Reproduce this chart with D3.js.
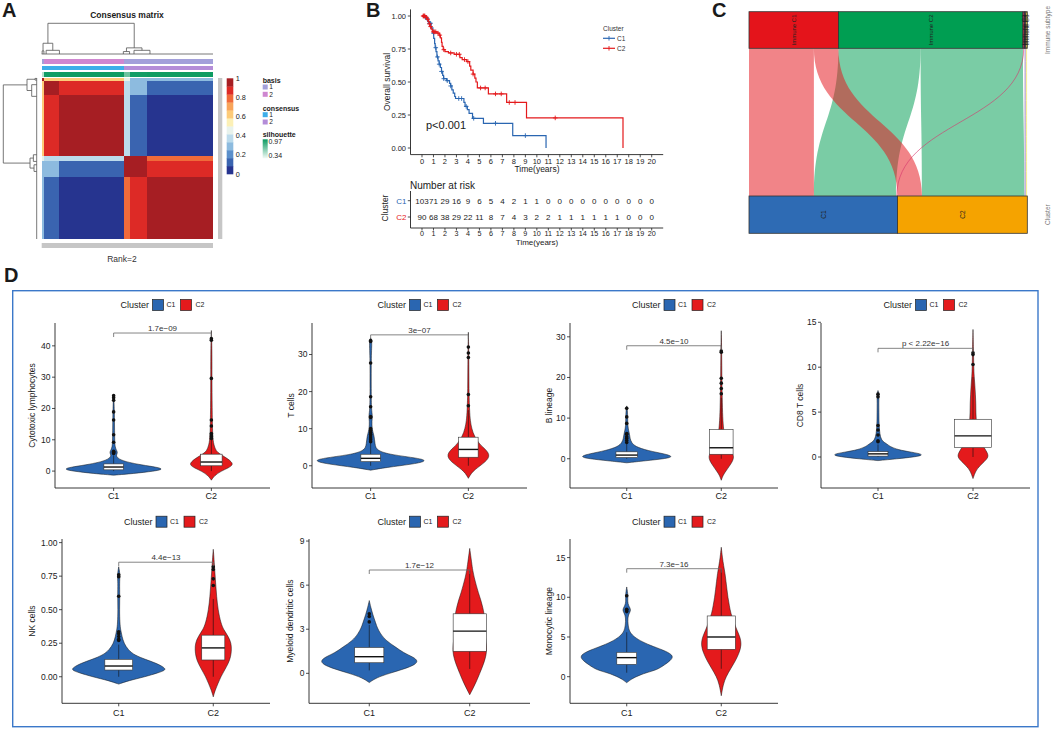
<!DOCTYPE html>
<html><head><meta charset="utf-8">
<script src="https://cdn.jsdelivr.net/npm/d3@7"></script>
<style>
body{margin:0;background:#fff}
svg{display:block}
text{font-family:"Liberation Sans",Arial,Helvetica,sans-serif;fill:#1a1a1a}
</style>
</head><body>
<svg id="fig" width="1059" height="731"></svg>
<script>
// ===================== DATA =====================
// ---- Panel A : consensus matrix (block structure) ----
const aBlockSizes = [3, 17, 73, 7, 19, 74];
const aBlockValues = [
  [1.00, 0.64, 0.64, 0.44, 0.30, 0.28],
  [0.64, 0.97, 0.88, 0.36, 0.30, 0.12],
  [0.64, 0.88, 0.97, 0.36, 0.13, 0.03],
  [0.44, 0.36, 0.36, 1.00, 0.92, 0.80],
  [0.30, 0.30, 0.13, 0.92, 0.97, 0.88],
  [0.28, 0.12, 0.03, 0.80, 0.88, 0.97]
];
const aBasis = [1, 2, 2, 1, 1, 1];
const aConsensus = [1, 1, 1, 2, 2, 2];
const aSilhouette = [0.50, 0.95, 0.96, 0.70, 0.95, 0.96];
const aLegendTicks = [0, 0.2, 0.4, 0.6, 0.8, 1];
const aColTree = [1.0, [0.35, [0.10, 0.5, 2.5], [0.12, 5, 20]], [0.20, [0.08, 92, 99], [0.12, 104, 122]]];
const aRowTree = [1.0, [0.29, [0.05, 0.5, 2.5], [0.15, 8, 22]], [0.20, [0.10, 92, 100], [0.08, 104, 112]]];
const aSilRange = [0.34, 0.97];

// ---- Panel B : Kaplan-Meier ----
const bTimeTicks = [0,1,2,3,4,5,6,7,8,9,10,11,12,13,14,15,16,17,18,19,20];
const bSurvTicks = [0, 0.25, 0.5, 0.75, 1];
const bStepsC1 = [[0,1],[0.2,0.99],[0.35,0.98],[0.5,0.96],[0.6,0.945],[0.8,0.91],[0.95,0.87],[1.02,0.83],[1.1,0.79],[1.15,0.76],[1.22,0.73],[1.3,0.69],[1.4,0.66],[1.5,0.635],[1.6,0.61],[1.7,0.58],[1.8,0.55],[1.88,0.525],[2.15,0.51],[2.4,0.49],[2.5,0.47],[2.6,0.44],[2.72,0.415],[2.85,0.39],[2.92,0.375],[3.65,0.345],[3.75,0.315],[3.95,0.29],[4.1,0.262],[4.4,0.225],[5.35,0.187],[7.9,0.094],[10.8,0]];
const bStepsC2 = [[0,1],[0.3,0.99],[0.45,0.975],[0.55,0.96],[0.62,0.94],[0.7,0.92],[0.8,0.9],[0.9,0.88],[1.3,0.87],[1.5,0.855],[1.6,0.835],[1.7,0.8],[1.75,0.77],[1.85,0.745],[2.0,0.73],[2.3,0.72],[2.8,0.71],[3.3,0.685],[3.5,0.67],[3.9,0.655],[4.15,0.62],[4.25,0.59],[4.45,0.56],[4.6,0.53],[4.7,0.5],[4.82,0.455],[5.78,0.41],[7.37,0.345],[9.1,0.228],[17.5,0]];
const bCensorC1 = [0.3,0.45,0.65,0.75,1.0,1.2,1.35,1.5,1.7,1.9,2.2,2.5,3.2,3.45,3.85,4.5,6.4,9.0];
const bCensorC2 = [0.1,0.15,0.2,0.25,0.4,0.5,0.65,0.75,1.0,1.1,1.2,1.4,1.55,1.9,2.5,3.0,3.25,3.7,4.0,4.45,5.1,5.5,6.4,6.9,7.6,8.1,11.6];
const bRiskC1 = [103,71,29,16,9,6,5,4,2,1,1,0,0,0,0,0,0,0,0,0,0];
const bRiskC2 = [90,68,38,29,22,11,8,7,4,3,2,2,1,1,1,1,1,1,0,0,0];
const bGroups = ["C1", "C2"];

// ---- Panel C : alluvial ----
const cTop = ["Immune C1", "Immune C2", "Immune C3", "Immune C4", "Immune C6"];
const cBottom = ["C1", "C2"];
const cFlows = [
  ["Immune C1", "C1", 45], ["Immune C1", "C2", 17],
  ["Immune C2", "C1", 57], ["Immune C2", "C2", 71],
  ["Immune C3", "C1", 1], ["Immune C4", "C2", 1], ["Immune C6", "C2", 1]
];

// ---- Panel D : violins ----
const dNames = ["Cytotoxic lymphocytes", "T cells", "B lineage", "CD8 T cells", "NK cells", "Myeloid dendritic cells", "Monocytic lineage"];
const dPvals = ["1.7e\u221209", "3e\u221207", "4.5e\u221210", "p < 2.22e\u221216", "4.4e\u221213", "1.7e\u221212", "7.3e\u221216"];
const dYDomain = [[-5.4,47.3],[-6.0,38.5],[-7.2,33.4],[-3.45,14.92],[-0.198,1.027],[-2.04,9.14],[-3.35,17.34]];
const dYTicks = [[0,10,20,30,40],[0,10,20,30],[0,10,20,30],[0,5,10,15],[0,0.25,0.5,0.75,1],[0,3,6,9],[0,5,10,15]];
const dBracket = [44.1, 35.3, 27.8, 12.1, 0.854, 7.03, 13.6];
const dCats = ["C1", "C2"];
const dViolinC1 = [
  [[-1.3,0],[-0.8,0.2],[0,0.42],[0.6,0.51],[1.2,0.45],[2,0.28],[2.8,0.15],[3.5,0.08],[4.2,0.04],[5,0.025],[5.8,0.04],[6.4,0.035],[7.5,0.015],[10,0.01],[20,0.008],[24.5,0]],
  [[-1.2,0],[-0.5,0.15],[0.5,0.45],[1.3,0.58],[2,0.5],[3,0.2],[4,0.08],[5,0.05],[6,0.045],[7,0.04],[8,0.035],[9,0.025],[10,0.015],[12,0.012],[13.5,0.02],[15,0.008],[20,0.006],[30,0.006],[33.5,0.015],[34.5,0]],
  [[-1,0],[-0.5,0.2],[0,0.4],[0.5,0.5],[1.2,0.4],[2,0.22],[3,0.09],[4,0.05],[5,0.035],[6,0.03],[7,0.02],[8,0.012],[10,0.01],[12,0.008],[13,0]],
  [[-0.4,0],[-0.2,0.2],[0,0.38],[0.25,0.5],[0.55,0.35],[0.8,0.21],[1.2,0.12],[1.5,0.09],[1.7,0.05],[2.2,0.025],[3,0.015],[4,0.01],[5,0.01],[6,0.008],[7,0.012],[7.4,0]],
  [[-0.055,0],[-0.03,0.1],[0,0.28],[0.03,0.42],[0.05,0.5],[0.07,0.48],[0.1,0.4],[0.13,0.28],[0.16,0.17],[0.2,0.1],[0.25,0.055],[0.3,0.035],[0.35,0.02],[0.4,0.012],[0.5,0.008],[0.6,0.012],[0.7,0.008],[0.76,0.015],[0.82,0]],
  [[-0.63,0],[-0.3,0.07],[0,0.2],[0.3,0.35],[0.6,0.46],[0.85,0.484],[1.1,0.44],[1.4,0.34],[1.8,0.26],[2.2,0.17],[2.7,0.11],[3.1,0.08],[3.4,0.065],[4,0.035],[4.5,0.015],[4.95,0]],
  [[-0.76,0],[-0.3,0.05],[0,0.1],[0.5,0.2],[0.85,0.32],[1.5,0.4],[2,0.46],[2.6,0.5],[3.2,0.42],[3.8,0.28],[4.4,0.16],[5,0.08],[5.5,0.04],[6,0.02],[7,0.01],[7.8,0.015],[8.4,0.05],[8.9,0.02],[9.5,0.008],[10.2,0.015],[11.3,0]]
];
const dViolinC2 = [
  [[-2.9,0],[-1.5,0.03],[0,0.1],[1,0.174],[2,0.222],[3,0.205],[4,0.164],[5,0.113],[6,0.061],[7,0.041],[9,0.02],[12,0.012],[20,0.008],[30,0.006],[40,0.006],[44.9,0]],
  [[-3.4,0],[-2,0.03],[-1,0.07],[0,0.12],[1,0.17],[2,0.205],[3,0.213],[4,0.19],[5,0.15],[6,0.11],[8,0.06],[10,0.035],[12,0.02],[15,0.012],[20,0.006],[30,0.005],[36,0]],
  [[-5.3,0],[-4,0.02],[-3,0.05],[-2,0.08],[-1,0.11],[0,0.13],[1,0.13],[2,0.1],[3,0.07],[5,0.04],[7,0.025],[10,0.015],[15,0.01],[20,0.006],[26,0.005],[31.5,0]],
  [[-2.4,0],[-1.5,0.03],[-1,0.07],[-0.5,0.12],[0,0.165],[0.5,0.15],[1,0.12],[2,0.06],[3,0.04],[4,0.035],[5,0.03],[6,0.03],[7,0.025],[8,0.02],[9,0.012],[10,0.008],[12,0.005],[14.2,0]],
  [[-0.15,0],[-0.1,0.02],[-0.05,0.05],[0,0.08],[0.05,0.12],[0.1,0.16],[0.15,0.185],[0.2,0.193],[0.25,0.19],[0.3,0.16],[0.35,0.11],[0.4,0.08],[0.5,0.05],[0.6,0.035],[0.7,0.025],[0.8,0.015],[0.9,0.006],[0.95,0]],
  [[-1.46,0],[-1,0.035],[-0.5,0.07],[0,0.1],[0.5,0.13],[1,0.155],[1.5,0.17],[2,0.165],[2.5,0.155],[3,0.15],[3.5,0.15],[4,0.145],[4.5,0.13],[5,0.11],[5.5,0.085],[6,0.065],[6.5,0.045],[7,0.03],[7.5,0.02],[8.5,0]],
  [[-2.4,0],[-1,0.02],[0,0.05],[1,0.1],[2,0.15],[3,0.19],[4,0.214],[5,0.2],[6,0.16],[7,0.13],[8,0.1],[9,0.085],[10,0.07],[11,0.06],[12,0.05],[13,0.04],[14,0.025],[15,0.012],[16.3,0]]
];
const dBoxC1 = [[0,0.4,1.3,2.3,5.0],[0,1.1,2.0,3.1,6.2],[0,0.3,0.9,1.7,3.7],[0,0.1,0.35,0.6,1.4],[0,0.05,0.08,0.13,0.24],[0.2,0.72,1.13,1.76,3.3],[0.5,1.55,2.4,3.07,5.6]];
const dBoxC2 = [[0,1.7,2.9,5.4,10],[0,2.3,4.4,7.7,15],[0,1.1,2.7,7.2,15],[0,1.05,2.35,4.2,8.9],[0,0.125,0.215,0.31,0.58],[0.3,1.5,2.87,4.05,7.0],[1,3.45,5.0,7.65,13.5]];
const dOutC1 = [
  [5.6,5.9,6.1,6.3,9.2,11.6,16.3,18.9,22.6,23.4,24.1],
  [6.5,7,7.5,8,8.5,9,9.5,10,13.0,13.3,15.9,18.6,27.7,33.5,33.8],
  [4.0,4.5,5.0,5.4,6.0,6.2,8.7,10.3,12.4],
  [1.7,1.8,2.45,3.0,3.5,6.7,7.0],
  [0.27,0.28,0.3,0.32,0.335,0.6,0.745,0.76],
  [3.5,3.87,4.05],
  [8.2,8.4,8.5,10.2]
];
const dOutC2 = [
  [10.4,11,11.5,12,14.4,16.3,29.6,41.8,42.3],
  [16.2,19.2,29.2,30.4,32],
  [16,17.3,18.6,19.8,26.2,26.5],
  [10.3,11.4,11.6],
  [0.68,0.73,0.8,0.82],
  [],
  []
];

// ===================== STYLE / LAYOUT =====================
const svg = d3.select("#fig");
const BLUE = "#2A66B1", RED = "#E41A1C";
function T(g, x, y, s, size, opt = {}) {
  const t = g.append("text").attr("x", x).attr("y", y).attr("font-size", size).text(s);
  if (opt.anchor) t.attr("text-anchor", opt.anchor);
  if (opt.weight) t.attr("font-weight", opt.weight);
  if (opt.fill) t.style("fill", opt.fill);
  if (opt.rot) t.attr("transform", `rotate(${opt.rot},${x},${y})`);
  if (opt.dy) t.attr("dy", opt.dy);
  return t;
}
T(svg, 2, 17, "A", 20, {weight: "bold"});
T(svg, 366, 17, "B", 20, {weight: "bold"});
T(svg, 712, 17, "C", 20, {weight: "bold"});
T(svg, 4, 282, "D", 20, {weight: "bold"});

// ===================== PANEL A =====================
(function () {
  const g = svg.append("g");
  const N = d3.sum(aBlockSizes);
  const starts = aBlockSizes.map((d, i) => d3.sum(aBlockSizes.slice(0, i)));
  const x = d3.scaleLinear().domain([0, N]).range([41.7, 213]);
  const y = d3.scaleLinear().domain([0, N]).range([78, 239]);
  const aColors = ["#26348F","#3A64B0","#5B8FCB","#8DBBDF","#BCDBEC","#E8F2EC","#FCF0B6","#FDCB78","#F8A45A","#F06A3A","#DD2A26","#A61E23"];
  const col = d3.scaleQuantize().domain([0, 1]).range(aColors);
  aBlockSizes.forEach((ri, i) => aBlockSizes.forEach((cj, j) => {
    g.append("rect").attr("x", x(starts[j])).attr("y", y(starts[i]))
      .attr("width", x(starts[j] + cj) - x(starts[j])).attr("height", y(starts[i] + ri) - y(starts[i]))
      .attr("fill", col(aBlockValues[i][j])).attr("shape-rendering", "crispEdges");
  }));
  const basisCol = {1: "#A3A0DA", 2: "#CF87D0"};
  const consCol = {1: "#3DAEE9", 2: "#B48DD8"};
  const silCol = d3.scaleLinear().domain(aSilRange).range(["#F2FAF6", "#0A9A60"]);
  aBlockSizes.forEach((c, j) => {
    const x0 = x(starts[j]), w = x(starts[j] + c) - x0;
    g.append("rect").attr("x", x0).attr("y", 59).attr("width", w).attr("height", 4.5).attr("fill", basisCol[aBasis[j]]).attr("shape-rendering", "crispEdges");
    g.append("rect").attr("x", x0).attr("y", 65.5).attr("width", w).attr("height", 4.5).attr("fill", consCol[aConsensus[j]]).attr("shape-rendering", "crispEdges");
    g.append("rect").attr("x", x0).attr("y", 72).attr("width", w).attr("height", 4.5).attr("fill", silCol(aSilhouette[j])).attr("shape-rendering", "crispEdges");
  });
  g.append("rect").attr("x", 218).attr("y", 78).attr("width", 4.3).attr("height", 161).attr("fill", "#C6C6C6");
  g.append("rect").attr("x", 41.7).attr("y", 243).attr("width", 171.3).attr("height", 5).attr("fill", "#C6C6C6");
  function line(x1, y1, x2, y2) {
    g.append("line").attr("x1", x1).attr("y1", y1).attr("x2", x2).attr("y2", y2).attr("stroke", "#555").attr("stroke-width", 0.8);
  }
  function walk(node, draw) {
    if (typeof node === "number") return {p: node, h: 0};
    const [h, l, r] = node;
    const a = walk(l, draw), b = walk(r, draw);
    draw(a, b, h);
    return {p: (a.p + b.p) / 2, h: h};
  }
  const cy = h => 54 - h * 30.7;
  walk(aColTree, (a, b, h) => {
    line(x(a.p), cy(h), x(b.p), cy(h));
    line(x(a.p), cy(h), x(a.p), cy(a.h));
    line(x(b.p), cy(h), x(b.p), cy(b.h));
  });
  line(41.7, 54, 213, 54);
  const rx = h => 36.7 - h * 33.4;
  walk(aRowTree, (a, b, h) => {
    line(rx(h), y(a.p), rx(h), y(b.p));
    line(rx(h), y(a.p), rx(a.h), y(a.p));
    line(rx(h), y(b.p), rx(b.h), y(b.p));
  });
  line(36.7, 78, 36.7, 239);
  T(g, 127, 18, "Consensus matrix", 8.5, {anchor: "middle", weight: "bold"});
  T(g, 122, 262, "Rank=2", 8.5, {anchor: "middle", fill: "#333"});
  const ly = d3.scaleLinear().domain([0, 1]).range([174, 78.3]);
  aColors.forEach((c, i) => {
    g.append("rect").attr("x", 226.7).attr("width", 6.6)
      .attr("y", ly((i + 1) / aColors.length)).attr("height", ly(i / aColors.length) - ly((i + 1) / aColors.length) + 0.3)
      .attr("fill", c);
  });
  aLegendTicks.forEach(v => T(g, 235.7, ly(v), d3.format("~g")(v), 7.3, {dy: "0.35em", fill: "#222"}));
  T(g, 262.7, 83, "basis", 7, {weight: "bold"});
  [1, 2].forEach((k, i) => {
    g.append("rect").attr("x", 262.7).attr("y", 84.5 + i * 7.3).attr("width", 5).attr("height", 5).attr("fill", basisCol[k]);
    T(g, 269.3, 89.3 + i * 7.3, String(k), 6.6);
  });
  T(g, 262.7, 110.6, "consensus", 7, {weight: "bold"});
  [1, 2].forEach((k, i) => {
    g.append("rect").attr("x", 262.7).attr("y", 112.2 + i * 7.3).attr("width", 5).attr("height", 5).attr("fill", consCol[k]);
    T(g, 269.3, 117 + i * 7.3, String(k), 6.6);
  });
  T(g, 262.7, 137.3, "silhouette", 7, {weight: "bold"});
  const grad = svg.append("defs").append("linearGradient").attr("id", "silg").attr("x1", 0).attr("x2", 0).attr("y1", 0).attr("y2", 1);
  grad.append("stop").attr("offset", "0%").attr("stop-color", silCol(aSilRange[1]));
  grad.append("stop").attr("offset", "100%").attr("stop-color", silCol(aSilRange[0]));
  g.append("rect").attr("x", 262.7).attr("y", 139.3).attr("width", 5).attr("height", 19).attr("fill", "url(#silg)");
  T(g, 268.5, 142, d3.format(".2f")(aSilRange[1]), 7, {dy: "0.35em"});
  T(g, 268.5, 155.5, d3.format(".2f")(aSilRange[0]), 7, {dy: "0.35em"});
})();

// ===================== PANEL B =====================
(function () {
  const g = svg.append("g");
  const x = d3.scaleLinear().domain([-1, 21]).range([410.5, 663.2]);
  const y = d3.scaleLinear().domain([-0.05, 1.05]).range([154.6, 9.4]);
  const ax = "#222";
  g.append("line").attr("x1", 410.5).attr("x2", 663.2).attr("y1", 154.6).attr("y2", 154.6).attr("stroke", ax).attr("stroke-width", 0.9);
  g.append("line").attr("x1", 410.5).attr("x2", 410.5).attr("y1", 9.4).attr("y2", 154.6).attr("stroke", ax).attr("stroke-width", 0.9);
  bTimeTicks.forEach(t => {
    g.append("line").attr("x1", x(t)).attr("x2", x(t)).attr("y1", 154.6).attr("y2", 157.3).attr("stroke", ax).attr("stroke-width", 0.8);
    T(g, x(t), 164, String(t), 7.5, {anchor: "middle", fill: "#222"});
  });
  bSurvTicks.forEach(s => {
    g.append("line").attr("x1", 407.8).attr("x2", 410.5).attr("y1", y(s)).attr("y2", y(s)).attr("stroke", ax).attr("stroke-width", 0.8);
    T(g, 406, y(s), d3.format(".2f")(s), 7.5, {anchor: "end", dy: "0.35em", fill: "#222"});
  });
  T(g, 537, 172, "Time(years)", 8.5, {anchor: "middle"});
  T(g, 390, 82, "Overall survival", 8.5, {anchor: "middle", rot: -90});
  const line = d3.line().x(d => x(d[0])).y(d => y(d[1])).curve(d3.curveStepAfter);
  const survAt = (steps, t) => { let s = 1; steps.forEach(d => { if (d[0] <= t) s = d[1]; }); return s; };
  [[bStepsC1, bCensorC1, BLUE], [bStepsC2, bCensorC2, RED]].forEach(([st, cs, c]) => {
    g.append("path").attr("d", line(st)).attr("fill", "none").attr("stroke", c).attr("stroke-width", 1.2);
    cs.forEach(t => {
      const px = x(t), py = y(survAt(st, t));
      g.append("path").attr("d", `M${px - 2.3},${py}H${px + 2.3}M${px},${py - 2.3}V${py + 2.3}`).attr("stroke", c).attr("stroke-width", 0.9);
    });
  });
  T(g, 426, 129, "p<0.001", 11, {});
  T(g, 603, 30.5, "Cluster", 6.5, {fill: "#333"});
  [BLUE, RED].forEach((c, i) => {
    const yy = 38.3 + i * 10;
    g.append("line").attr("x1", 603).attr("x2", 615).attr("y1", yy).attr("y2", yy).attr("stroke", c).attr("stroke-width", 1.2);
    g.append("path").attr("d", `M609,${yy - 2.3}V${yy + 2.3}`).attr("stroke", c).attr("stroke-width", 0.9);
    T(g, 617, yy, bGroups[i], 6.5, {dy: "0.35em", fill: "#333"});
  });
  T(g, 410, 189, "Number at risk", 10, {});
  const ry = d3.scalePoint().domain(bGroups).range([200.7, 217]);
  g.append("line").attr("x1", 410.5).attr("x2", 663.2).attr("y1", 228).attr("y2", 228).attr("stroke", ax).attr("stroke-width", 0.9);
  g.append("line").attr("x1", 410.5).attr("x2", 410.5).attr("y1", 191).attr("y2", 228).attr("stroke", ax).attr("stroke-width", 0.9);
  bTimeTicks.forEach(t => {
    g.append("line").attr("x1", x(t)).attr("x2", x(t)).attr("y1", 228).attr("y2", 230.5).attr("stroke", ax).attr("stroke-width", 0.8);
    T(g, x(t), 236, String(t), 7.2, {anchor: "middle", fill: "#222"});
  });
  T(g, 537, 244.5, "Time(years)", 8, {anchor: "middle"});
  [[bRiskC1, BLUE], [bRiskC2, RED]].forEach(([arr, c], i) => {
    const yy = ry(bGroups[i]);
    g.append("line").attr("x1", 407.8).attr("x2", 410.5).attr("y1", yy).attr("y2", yy).attr("stroke", ax).attr("stroke-width", 0.8);
    T(g, 406.5, yy, bGroups[i], 8, {anchor: "end", dy: "0.35em", fill: c});
    arr.forEach((n, k) => T(g, x(bTimeTicks[k]), yy, String(n), 8, {anchor: "middle", dy: "0.35em"}));
  });
  T(g, 388, 208, "Cluster", 8.5, {anchor: "middle", rot: -90});
})();

// ===================== PANEL C =====================
(function () {
  const g = svg.append("g");
  const N = d3.sum(cFlows, d => d[2]);
  const x = d3.scaleLinear().domain([0, N]).range([749, 1027.3]);
  const yTop0 = 11.7, yTop1 = 48.3, yBot0 = 196, yBot1 = 233.3;
  const topCol = {"Immune C1": "#E4141B", "Immune C2": "#009E52", "Immune C3": "#D6336C", "Immune C4": "#6A3D9A", "Immune C6": "#F0E442"};
  const botCol = {"C1": "#2E6BB4", "C2": "#F5A300"};
  const topTot = cTop.map(s => d3.sum(cFlows.filter(f => f[0] === s), f => f[2]));
  const botTot = cBottom.map(s => d3.sum(cFlows.filter(f => f[1] === s), f => f[2]));
  const topStart = {}, botStart = {};
  let acc = 0; cTop.forEach((s, i) => { topStart[s] = acc; acc += topTot[i]; });
  acc = 0; cBottom.forEach((s, i) => { botStart[s] = acc; acc += botTot[i]; });
  const topOff = Object.assign({}, topStart), botOff = Object.assign({}, botStart);
  const byTop = cFlows.slice().sort((a, b) => cTop.indexOf(a[0]) - cTop.indexOf(b[0]) || cBottom.indexOf(a[1]) - cBottom.indexOf(b[1]));
  const pos = new Map();
  byTop.forEach(f => { pos.set(f, {t0: topOff[f[0]]}); topOff[f[0]] += f[2]; });
  const byBot = cFlows.slice().sort((a, b) => cBottom.indexOf(a[1]) - cBottom.indexOf(b[1]) || cTop.indexOf(a[0]) - cTop.indexOf(b[0]));
  byBot.forEach(f => { pos.get(f).b0 = botOff[f[1]]; botOff[f[1]] += f[2]; });
  const ym = (yTop1 + yBot0) / 2;
  // draw order: Immune C2 flows first, then Immune C1, then the small subtypes
  const drawOrder = ["Immune C2", "Immune C1", "Immune C3", "Immune C4", "Immune C6"];
  const flowsSorted = cFlows.slice().sort((a, b) => drawOrder.indexOf(a[0]) - drawOrder.indexOf(b[0]));
  flowsSorted.forEach(f => {
    const p = pos.get(f);
    const a0 = x(p.t0), a1 = x(p.t0 + f[2]), b0 = x(p.b0), b1 = x(p.b0 + f[2]);
    if (f[2] < 3) {
      const am = (a0 + a1) / 2, bm = (b0 + b1) / 2;
      g.append("path").attr("d", `M${am},${yTop1}C${am},${ym} ${bm},${ym} ${bm},${yBot0}`)
        .attr("fill", "none").attr("stroke", topCol[f[0]]).attr("stroke-opacity", 0.6).attr("stroke-width", 1.0);
    } else {
      const d = `M${a0},${yTop1}C${a0},${ym} ${b0},${ym} ${b0},${yBot0}L${b1},${yBot0}C${b1},${ym} ${a1},${ym} ${a1},${yTop1}Z`;
      g.append("path").attr("d", d).attr("fill", topCol[f[0]]).attr("fill-opacity", 0.52);
    }
  });
  cTop.forEach((s, i) => {
    const x0 = x(topStart[s]), x1 = x(topStart[s] + topTot[i]);
    g.append("rect").attr("x", x0).attr("y", yTop0).attr("width", x1 - x0).attr("height", yTop1 - yTop0)
      .attr("fill", topCol[s]).attr("stroke", "#333").attr("stroke-width", 0.8);
  });
  cTop.forEach((s, i) => {
    const cx = x(topStart[s] + topTot[i] / 2);
    T(g, cx, (yTop0 + yTop1) / 2, s, 6, {anchor: "middle", dy: "0.35em", rot: -90, fill: "#222"});
  });
  cBottom.forEach((s, i) => {
    const x0 = x(botStart[s]), x1 = x(botStart[s] + botTot[i]);
    g.append("rect").attr("x", x0).attr("y", yBot0).attr("width", x1 - x0).attr("height", yBot1 - yBot0)
      .attr("fill", botCol[s]).attr("stroke", "#333").attr("stroke-width", 0.8);
    T(g, (x0 + x1) / 2, (yBot0 + yBot1) / 2, s, 6.5, {anchor: "middle", dy: "0.35em", rot: -90, fill: "#222"});
  });
  T(g, 1048, 30, "Immune subtype", 6.5, {anchor: "middle", dy: "0.35em", rot: -90, fill: "#777"});
  T(g, 1048, 214.6, "Cluster", 6.5, {anchor: "middle", dy: "0.35em", rot: -90, fill: "#777"});
})();

// ===================== PANEL D =====================
(function () {
  const g = svg.append("g");
  g.append("rect").attr("x", 12.7).attr("y", 290.7).attr("width", 1025.3).attr("height", 436)
    .attr("fill", "none").attr("stroke", "#3B78C9").attr("stroke-width", 1.4);
  const layout = [
    {x0: 55, x1: 270, row: 0, lab: 20}, {x0: 312, x1: 527, row: 0, lab: 18},
    {x0: 570, x1: 778, row: 0, lab: 18}, {x0: 821, x1: 1030, row: 0, lab: 18},
    {x0: 62, x1: 270, row: 1, lab: 27}, {x0: 309, x1: 530, row: 1, lab: 16},
    {x0: 570, x1: 778, row: 1, lab: 18}
  ];
  const rows = [{top: 323, bottom: 488, leg: 305, xl: 498.5}, {top: 539, bottom: 703.3, leg: 521.7, xl: 715.5}];
  const boxHalf = [[0.1, 0.11], [0.1, 0.1], [0.114, 0.125], [0.105, 0.193], [0.147, 0.122], [0.145, 0.165], [0.105, 0.149]];
  const ax = "#222";
  dNames.forEach((name, k) => {
    const L = layout[k], R = rows[L.row];
    const x = d3.scalePoint().domain(dCats).range([L.x0, L.x1]).padding(0.6);
    const step = x.step();
    const y = d3.scaleLinear().domain(dYDomain[k]).range([R.bottom, R.top]);
    const pg = g.append("g");
    const lc = (L.x0 + L.x1) / 2;
    T(pg, lc - 42, R.leg, "Cluster", 9, {dy: "0.35em"});
    [[BLUE, -10, 4], [RED, 18, 33]].forEach(([c, sx, tx], i) => {
      pg.append("rect").attr("x", lc + sx).attr("y", R.leg - 5.5).attr("width", 11).attr("height", 11)
        .attr("fill", c).attr("stroke", "#222").attr("stroke-width", 0.7);
      T(pg, lc + tx, R.leg, dCats[i], 7, {dy: "0.35em"});
    });
    pg.append("line").attr("x1", L.x0).attr("x2", L.x0).attr("y1", R.top).attr("y2", R.bottom).attr("stroke", ax).attr("stroke-width", 0.9);
    pg.append("line").attr("x1", L.x0).attr("x2", L.x1).attr("y1", R.bottom).attr("y2", R.bottom).attr("stroke", ax).attr("stroke-width", 0.9);
    const fmt = k === 4 ? d3.format(".2f") : d3.format("d");
    dYTicks[k].forEach(v => {
      pg.append("line").attr("x1", L.x0 - 3).attr("x2", L.x0).attr("y1", y(v)).attr("y2", y(v)).attr("stroke", ax).attr("stroke-width", 0.8);
      T(pg, L.x0 - 4.5, y(v), fmt(v), 8.5, {anchor: "end", dy: "0.35em", fill: "#222"});
    });
    dCats.forEach(c => {
      pg.append("line").attr("x1", x(c)).attr("x2", x(c)).attr("y1", R.bottom).attr("y2", R.bottom + 3).attr("stroke", ax).attr("stroke-width", 0.8);
      T(pg, x(c), R.xl, c, 9, {anchor: "middle"});
    });
    T(pg, L.x0 - L.lab, (R.top + R.bottom) / 2, name, 8.5, {anchor: "middle", rot: -90});
    [[dViolinC1[k], dBoxC1[k], dOutC1[k], BLUE, 0], [dViolinC2[k], dBoxC2[k], dOutC2[k], RED, 1]].forEach(([prof, box, out, c, i]) => {
      const cx = x(dCats[i]);
      const area = d3.area().y(d => y(d[0])).x0(d => cx - d[1] * step).x1(d => cx + d[1] * step).curve(d3.curveBasis);
      pg.append("path").attr("d", area(prof)).attr("fill", c).attr("stroke", "#111").attr("stroke-width", 0.5);
      const hw = boxHalf[k][i] * step;
      pg.append("line").attr("x1", cx).attr("x2", cx).attr("y1", y(box[0])).attr("y2", y(box[1])).attr("stroke", "#111").attr("stroke-width", 0.6);
      pg.append("line").attr("x1", cx).attr("x2", cx).attr("y1", y(box[3])).attr("y2", y(box[4])).attr("stroke", "#111").attr("stroke-width", 0.6);
      pg.append("rect").attr("x", cx - hw).attr("width", 2 * hw).attr("y", y(box[3])).attr("height", y(box[1]) - y(box[3]))
        .attr("fill", "#fff").attr("stroke", "#333").attr("stroke-width", 0.6);
      pg.append("line").attr("x1", cx - hw).attr("x2", cx + hw).attr("y1", y(box[2])).attr("y2", y(box[2])).attr("stroke", "#111").attr("stroke-width", 1.4);
      out.forEach(v => pg.append("circle").attr("cx", cx).attr("cy", y(v)).attr("r", 1.8).attr("fill", "#111"));
    });
    const by = y(dBracket[k]), xa = x(dCats[0]), xb = x(dCats[1]);
    pg.append("path").attr("d", `M${xa},${by + 4}V${by}H${xb}V${by + 4}`).attr("fill", "none").attr("stroke", "#666").attr("stroke-width", 0.8);
    T(pg, (xa + xb) / 2, by - 2, dPvals[k], 8, {anchor: "middle", fill: "#333"});
  });
})();
</script>
</body></html>
